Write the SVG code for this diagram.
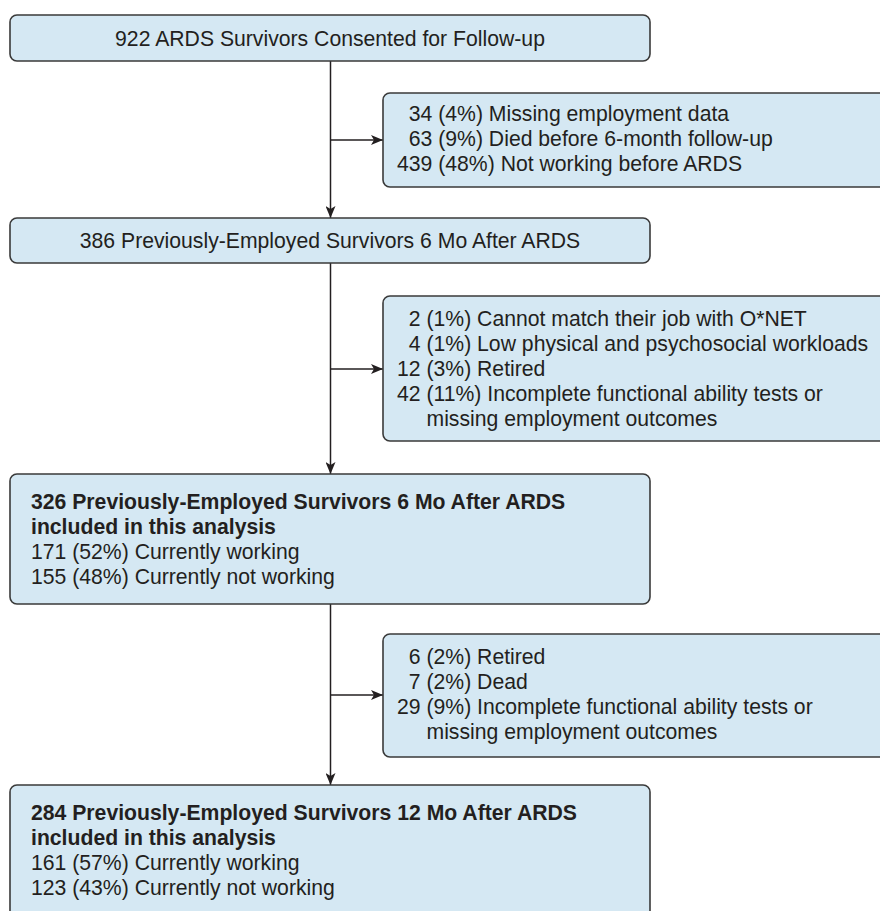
<svg xmlns="http://www.w3.org/2000/svg" width="880" height="911" viewBox="0 0 880 911">
<defs>
<style>
.box{fill:#d5e8f3;stroke:#3a3a3a;stroke-width:1.6}
.t{font-family:"Liberation Sans",Arial,Helvetica,sans-serif;font-size:21.2px;fill:#231f20}
.b{font-weight:bold}
.c{text-anchor:middle}
.ln{fill:none;stroke:#231f20;stroke-width:1.5}
</style>
<marker id="ah" viewBox="0 0 12 10" refX="12" refY="5" markerWidth="12" markerHeight="10" markerUnits="userSpaceOnUse" orient="auto">
<path d="M0,0 L12,5 L0,10 L3,5 z" fill="#231f20"/>
</marker>
</defs>
<rect width="880" height="911" fill="#ffffff"/>
<g id="connectors">
<line class="ln" x1="330.5" y1="61" x2="330.5" y2="218" marker-end="url(#ah)"/>
<line class="ln" x1="330.5" y1="140" x2="383" y2="140" marker-end="url(#ah)"/>
<line class="ln" x1="330.5" y1="263" x2="330.5" y2="474" marker-end="url(#ah)"/>
<line class="ln" x1="330.5" y1="369" x2="383" y2="369" marker-end="url(#ah)"/>
<line class="ln" x1="330.5" y1="604" x2="330.5" y2="785" marker-end="url(#ah)"/>
<line class="ln" x1="330.5" y1="695" x2="383" y2="695" marker-end="url(#ah)"/>
</g>
<g id="n1">
<rect class="box" x="10" y="15" width="640" height="46" rx="7"/>
<text class="t c" x="330" y="45.5">922 ARDS Survivors Consented for Follow-up</text>
</g>
<g id="x1">
<rect class="box" x="383" y="93" width="520" height="94" rx="7"/>
<text class="t" x="408.8" y="121">34 (4%) Missing employment data</text>
<text class="t" x="408.8" y="146">63 (9%) Died before 6-month follow-up</text>
<text class="t" x="397" y="171">439 (48%) Not working before ARDS</text>
</g>
<g id="n2">
<rect class="box" x="10" y="218" width="640" height="45" rx="7"/>
<text class="t c" x="330" y="248">386 Previously-Employed Survivors 6 Mo After ARDS</text>
</g>
<g id="x2">
<rect class="box" x="383" y="296" width="520" height="145" rx="7"/>
<text class="t" x="408.8" y="326">2 (1%) Cannot match their job with O*NET</text>
<text class="t" x="408.8" y="351">4 (1%) Low physical and psychosocial workloads</text>
<text class="t" x="397" y="376">12 (3%) Retired</text>
<text class="t" x="397" y="401">42 (11%) Incomplete functional ability tests or</text>
<text class="t" x="426.5" y="426">missing employment outcomes</text>
</g>
<g id="n3">
<rect class="box" x="10" y="474" width="640" height="130" rx="7"/>
<text class="t b" x="31" y="509">326 Previously-Employed Survivors 6 Mo After ARDS</text>
<text class="t b" x="31" y="534">included in this analysis</text>
<text class="t" x="31" y="559">171 (52%) Currently working</text>
<text class="t" x="31" y="584">155 (48%) Currently not working</text>
</g>
<g id="x3">
<rect class="box" x="383" y="634" width="520" height="123" rx="7"/>
<text class="t" x="408.8" y="664">6 (2%) Retired</text>
<text class="t" x="408.8" y="689">7 (2%) Dead</text>
<text class="t" x="397" y="714">29 (9%) Incomplete functional ability tests or</text>
<text class="t" x="426.5" y="739">missing employment outcomes</text>
</g>
<g id="n4">
<rect class="box" x="10" y="785" width="640" height="150" rx="7"/>
<text class="t b" x="31" y="820">284 Previously-Employed Survivors 12 Mo After ARDS</text>
<text class="t b" x="31" y="845">included in this analysis</text>
<text class="t" x="31" y="870">161 (57%) Currently working</text>
<text class="t" x="31" y="895">123 (43%) Currently not working</text>
</g>
</svg>
